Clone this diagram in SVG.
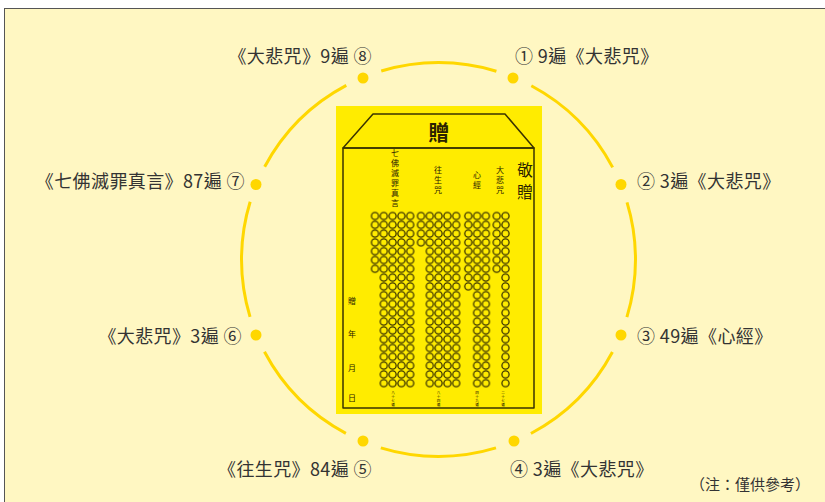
<svg xmlns="http://www.w3.org/2000/svg" width="825" height="502" viewBox="0 0 825 502">
<style>
.lbl{font-family:"Noto Sans CJK TC","Noto Sans",sans-serif;font-size:18px;letter-spacing:0.4px;fill:#333}
.note{font-family:"Noto Sans CJK TC","Noto Sans",sans-serif;font-size:15px;fill:#333}
.env{font-family:"Noto Sans CJK TC",sans-serif;fill:#2a2200;text-anchor:middle}
.dot{fill:#FFD700}
.ring{fill:none;stroke:#FFD700;stroke-width:3}
.edge{fill:none;stroke:#3a3300;stroke-width:1.5;stroke-linejoin:round}
</style>
<defs>
<pattern id="beads" patternUnits="userSpaceOnUse" width="8.8" height="8.8">
<circle cx="4.4" cy="4.4" r="3.55" fill="none" stroke="#3a3300" stroke-width="1.3"/>
</pattern>
</defs>
<rect x="0" y="0" width="825" height="502" fill="#ffffff"/>
<rect x="4.5" y="8.5" width="830" height="500" fill="#FFF7C2" stroke="#555" stroke-width="1"/>

<g id="connectors">
<circle class="ring" cx="438.5" cy="259.5" r="197" stroke-dasharray="116.89 37.83" stroke-dashoffset="58.45"/>
</g>

<g id="envelope">
<rect x="336" y="106" width="206" height="308" fill="#FFEC00"/>
<polygon class="edge" points="343,148 373,114 505,114 534,148"/>
<rect class="edge" x="343" y="148" width="191" height="260"/>
<text class="env" x="439" y="140" font-size="21" font-weight="bold">贈</text>
<text class="env" font-size="16"><tspan x="525" y="176">敬</tspan><tspan x="525" y="198">贈</tspan></text>
<text class="env" font-size="8"><tspan x="500" y="173">大</tspan><tspan x="500" y="183">悲</tspan><tspan x="500" y="193">咒</tspan></text>
<text class="env" font-size="8"><tspan x="477" y="178">心</tspan><tspan x="477" y="188">經</tspan></text>
<text class="env" font-size="8"><tspan x="438" y="173">往</tspan><tspan x="438" y="183">生</tspan><tspan x="438" y="193">咒</tspan></text>
<text class="env" font-size="8"><tspan x="395" y="156">七</tspan><tspan x="395" y="166">佛</tspan><tspan x="395" y="176">滅</tspan><tspan x="395" y="186">罪</tspan><tspan x="395" y="196">真</tspan><tspan x="395" y="206">言</tspan></text>
<text class="env" font-size="8"><tspan x="352" y="304">贈</tspan><tspan x="352" y="337">年</tspan><tspan x="352" y="371">月</tspan><tspan x="352" y="401">日</tspan></text>
<text class="env" font-size="3.6"><tspan x="393" y="394">八</tspan><tspan x="393" y="398">十</tspan><tspan x="393" y="402">七</tspan><tspan x="393" y="406">遍</tspan></text>
<text class="env" font-size="3.6"><tspan x="438.5" y="394">八</tspan><tspan x="438.5" y="398">十</tspan><tspan x="438.5" y="402">四</tspan><tspan x="438.5" y="406">遍</tspan></text>
<text class="env" font-size="3.6"><tspan x="477" y="394">四</tspan><tspan x="477" y="398">十</tspan><tspan x="477" y="402">九</tspan><tspan x="477" y="406">遍</tspan></text>
<text class="env" font-size="3.6"><tspan x="503" y="394">二</tspan><tspan x="503" y="398">十</tspan><tspan x="503" y="402">七</tspan><tspan x="503" y="406">遍</tspan></text>
<g id="beads-group1">
<rect x="0" y="0" width="44" height="61.6" fill="url(#beads)" transform="translate(370.6,211.6)"/>
<rect x="0" y="0" width="35.2" height="114.4" fill="url(#beads)" transform="translate(379.4,273.2)"/>
</g>
<g id="beads-group2">
<rect x="0" y="0" width="44" height="35.2" fill="url(#beads)" transform="translate(416.6,211.6)"/>
<rect x="0" y="0" width="35.2" height="140.8" fill="url(#beads)" transform="translate(425.4,246.8)"/>
</g>
<g id="beads-group3">
<rect x="0" y="0" width="26.4" height="79.2" fill="url(#beads)" transform="translate(463.9,211.6)"/>
<rect x="0" y="0" width="17.6" height="96.8" fill="url(#beads)" transform="translate(472.7,290.8)"/>
</g>
<g id="beads-group4">
<rect x="0" y="0" width="17.6" height="61.6" fill="url(#beads)" transform="translate(492.3,211.6)"/>
<rect x="0" y="0" width="8.8" height="114.4" fill="url(#beads)" transform="translate(501.1,273.2)"/>
</g>
</g>

<g id="node1"><circle class="dot" cx="513" cy="78" r="5.5"/><text class="lbl" x="515" y="63">① 9遍《大悲咒》</text></g>
<g id="node2"><circle class="dot" cx="621" cy="184.5" r="5.5"/><text class="lbl" x="637" y="188">② 3遍《大悲咒》</text></g>
<g id="node3"><circle class="dot" cx="621" cy="335" r="5.5"/><text class="lbl" x="637" y="343">③ 49遍《心經》</text></g>
<g id="node4"><circle class="dot" cx="514" cy="441" r="5.5"/><text class="lbl" x="510" y="476">④ 3遍《大悲咒》</text></g>
<g id="node5"><circle class="dot" cx="363" cy="441" r="5.5"/><text class="lbl" x="372" y="476" text-anchor="end">《往生咒》84遍 ⑤</text></g>
<g id="node6"><circle class="dot" cx="256" cy="335" r="5.5"/><text class="lbl" x="242" y="343" text-anchor="end">《大悲咒》3遍 ⑥</text></g>
<g id="node7"><circle class="dot" cx="256" cy="184.5" r="5.5"/><text class="lbl" x="245" y="188" text-anchor="end">《七佛滅罪真言》87遍 ⑦</text></g>
<g id="node8"><circle class="dot" cx="363" cy="78" r="5.5"/><text class="lbl" x="372" y="63" text-anchor="end">《大悲咒》9遍 ⑧</text></g>
<text class="note" x="810" y="490" text-anchor="end">（注：僅供參考）</text>
</svg>
